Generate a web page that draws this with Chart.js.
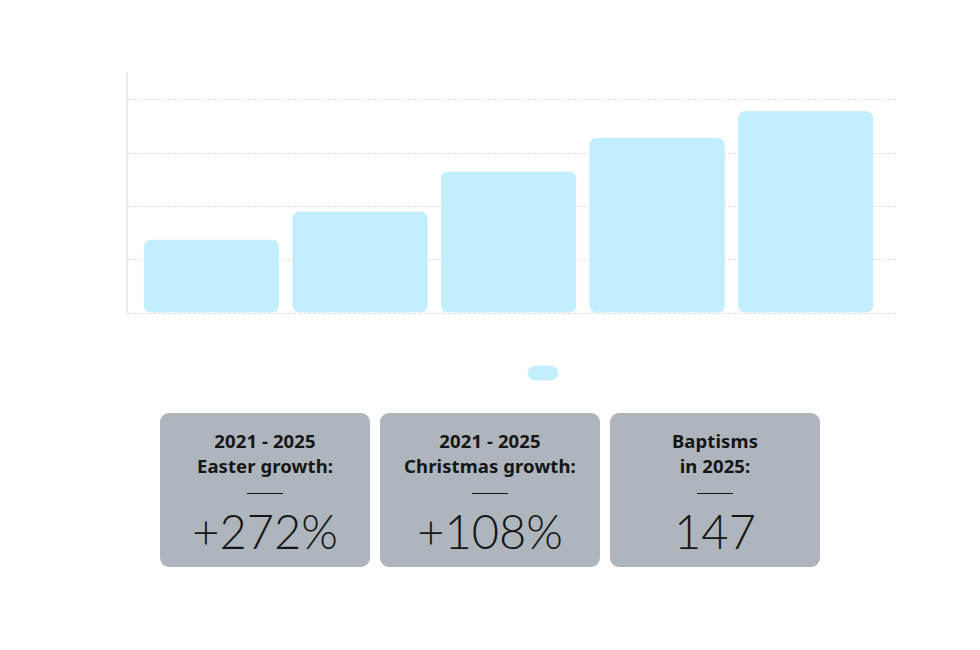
<!DOCTYPE html>
<html>
<head>
<meta charset="utf-8">
<script src="https://cdn.jsdelivr.net/npm/chart.js@4"></script>
<style>
    body { margin: 0; background: #fff; font-family: Lato, "Open Sans", sans-serif; overflow: hidden; }
    #wrap { position: absolute; left: 112px; top: 50px; width: 868px; height: 340px; }
    .card {
        position: absolute; top: 413px; height: 154px;
        background: #aeb5bc; border-radius: 9px; text-align: center; color: #151515;
    }
    .card .title { margin-top: 15px; font-family: "Noto Sans", sans-serif; font-weight: 700; font-size: 18.5px; line-height: 25px; letter-spacing: 0.1px; }
    .card .rule { width: 36px; height: 1px; background: #151515; margin: 15px auto 0; }
    .card .num { font-size: 47px; font-weight: 300; margin-top: 12px; line-height: 50px; }
</style>
</head>
<body>
<div id="wrap"><canvas id="chartCanvas"></canvas></div>

<div class="card" style="left:160px;width:210px">
    <div class="title">2021 - 2025<br>Easter growth:</div>
    <div class="rule"></div>
    <div class="num">+272%</div>
</div>
<div class="card" style="left:380px;width:220px">
    <div class="title">2021 - 2025<br>Christmas growth:</div>
    <div class="rule"></div>
    <div class="num">+108%</div>
</div>
<div class="card" style="left:610px;width:210px">
    <div class="title">Baptisms<br>in 2025:</div>
    <div class="rule"></div>
    <div class="num">147</div>
</div>

<script>
// chart values (arbitrary units)
const categories = ["2021", "2022", "2023", "2024", "2025"];
const values = [137, 190, 265, 328, 378];
const seriesLabel = "";

// bars sit on a linear index axis so their spacing matches the original
const points = categories.map((c, i) => ({ x: i + 1, y: values[i] }));

const ctx = document.getElementById('chartCanvas').getContext('2d');
new Chart(ctx, {
    type: 'bar',
    data: {
        labels: categories,
        datasets: [{
            label: seriesLabel,
            data: points,
            backgroundColor: '#c2eefd',
            borderColor: '#c8f0fd',
            borderWidth: 1,
            borderRadius: 7,
            borderSkipped: false,
            barThickness: 135
        }]
    },
    options: {
        responsive: true,
        maintainAspectRatio: false,
        animation: false,
        layout: { padding: { top: 23, right: 0, left: 0, bottom: 0 } },
        scales: {
            x: {
                type: 'linear',
                offset: false,
                min: 0.431,
                max: 5.609,
                grid: { display: false },
                border: { display: false },
                ticks: { display: false },
                afterFit: (scale) => { scale.height = 23; }
            },
            y: {
                min: 0,
                max: 450,
                ticks: { display: false, stepSize: 100 },
                border: { color: '#ededed', width: 2, dash: [3, 2] },
                grid: {
                    color: (c) => c.tick && c.tick.value > 400 ? 'rgba(0,0,0,0)' : '#e4ddd6',
                    lineWidth: 1,
                    drawTicks: false
                },
                afterFit: (scale) => { scale.width = 15; }
            },
            // empty spacer on the right, keeps the legend centred on the canvas
            yRight: {
                position: 'right',
                grid: { display: false },
                border: { display: false },
                ticks: { display: false },
                afterFit: (scale) => { scale.width = 84; }
            }
        },
        plugins: {
            legend: {
                position: 'bottom',
                labels: { boxWidth: 30, boxHeight: 14, useBorderRadius: true, borderRadius: 7, padding: 30 }
            },
            tooltip: { enabled: false }
        }
    }
});
</script>
</body>
</html>
